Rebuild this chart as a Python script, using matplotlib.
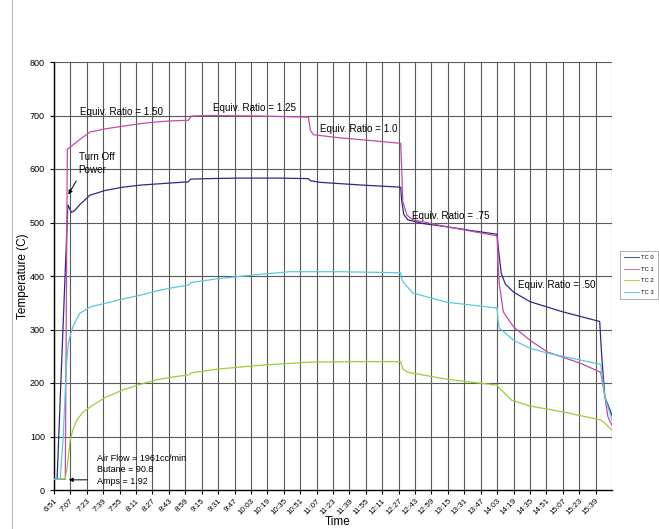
import numpy as np
import matplotlib.pyplot as plt
from matplotlib.lines import Line2D

plt.rcParams['font.family'] = ['Liberation Sans', 'DejaVu Sans']

# minutes after 6:51 and temperature (C) for each thermocouple
tc0_t = [0, 3, 13.5, 17, 20, 25, 35, 50, 67, 85, 100, 115, 131, 133, 150, 180, 220, 248,
         250, 260, 300, 338, 339, 341, 345, 360, 383, 410, 432, 433, 436, 440, 448, 464,
         496, 532, 534, 537, 544]
tc0_v = [20, 20, 533, 519, 522, 533, 551, 560, 566, 570, 572, 574, 576, 581, 582, 583, 583, 582,
         578, 575, 570, 566, 540, 515, 505, 498, 492, 484, 478, 455, 405, 385, 370, 352,
         333, 315, 250, 174, 140]

tc1_t = [0, 11, 13, 16, 25, 35, 50, 67, 85, 100, 115, 131, 134, 150, 200, 248, 250, 253,
         280, 310, 338, 339, 340, 344, 350, 383, 432, 433, 434, 438, 448, 464, 481, 513,
         533, 536, 540, 544]
tc1_v = [20, 20, 637, 641, 655, 669, 675, 680, 685, 688, 690, 691, 699, 700, 699, 697, 672, 664,
         658, 653, 648, 600, 540, 514, 505, 492, 475, 420, 387, 333, 305, 280, 258, 237,
         220, 187, 137, 121]

tc2_t = [0, 11, 13, 15.5, 18, 22, 28, 35, 50, 67, 85, 100, 115, 131, 134, 160, 200, 249,
         300, 338, 340, 345, 383, 432, 434, 446, 464, 496, 533, 537, 544]
tc2_v = [20, 21, 45, 90, 110, 130, 145, 155, 173, 187, 198, 206, 211, 215, 219, 226, 233, 239,
         240, 240, 226, 220, 207, 196, 191, 168, 157, 146, 131, 125, 112]

tc3_t = [0, 6, 9, 12, 14, 16, 19, 25, 35, 52, 67, 84, 100, 115, 131, 134, 160, 200, 230,
         249, 280, 338, 339, 341, 350, 383, 432, 433, 434, 448, 464, 481, 513, 533, 537, 544]
tc3_v = [20, 20, 100, 230, 275, 290, 308, 330, 342, 350, 357, 364, 372, 378, 383, 388, 395, 403, 408,
         408, 408, 406, 395, 387, 368, 351, 340, 315, 303, 280, 265, 256, 243, 235, 174, 131]

tick_labels = ['6:51', '7:07', '7:23', '7:39', '7:55', '8:11', '8:27', '8:43', '8:59', '9:15',
               '9:31', '9:47', '10:03', '10:19', '10:35', '10:51', '11:07', '11:23', '11:39',
               '11:55', '12:11', '12:27', '12:43', '12:59', '13:15', '13:31', '13:47', '14:03',
               '14:19', '14:35', '14:51', '15:07', '15:23', '15:39']

fig = plt.figure(figsize=(6.59, 5.29), dpi=100)
ax = fig.add_axes([54 / 659, 39 / 529, 558 / 659, 428 / 529])

grid_c = '#5a5a5a'
for k in range(len(tick_labels) + 1):
    ax.axvline(k * 16, color=grid_c, lw=0.8, zorder=1)
for v in range(100, 900, 100):
    ax.axhline(v, color=grid_c, lw=0.8, zorder=1)

c0, c1, c2, c3 = '#2b2b86', '#c44aa8', '#9ccc3a', '#58c8e2'
ax.plot(tc0_t, tc0_v, color=c0, lw=0.9, zorder=3)
ax.plot(tc1_t, tc1_v, color=c1, lw=0.9, zorder=3)
ax.plot(tc2_t, tc2_v, color=c2, lw=0.9, zorder=3)
ax.plot(tc3_t, tc3_v, color=c3, lw=0.9, zorder=3)

ax.set_xlim(0, 544)
ax.set_ylim(0, 800)
ax.set_xticks(np.arange(len(tick_labels)) * 16)
ax.set_xticklabels(tick_labels, rotation=45, ha='right', rotation_mode='anchor', fontsize=5.8)
ax.set_yticks(range(0, 900, 100))
ax.tick_params(axis='y', labelsize=6.5, length=3, color='black')
ax.tick_params(axis='x', length=3, color='black', pad=2.5)
for s in ['top', 'right']:
    ax.spines[s].set_visible(False)
ax.spines['left'].set_linewidth(1.0)
ax.spines['bottom'].set_linewidth(1.0)
ax.set_ylabel('Temperature (C)', fontsize=8.5)
ax.yaxis.set_label_coords(-25 / 558, 0.5)
fig.text(338 / 659, 7 / 529, 'Time', fontsize=8.5, ha='center', va='center')

fs = 7.1
ax.text(25, 707, 'Equiv. Ratio = 1.50', fontsize=fs, va='center', zorder=5)
ax.text(155, 714, 'Equiv. Ratio = 1.25', fontsize=fs, va='center', zorder=5)
ax.text(259, 675, 'Equiv. Ratio = 1.0', fontsize=fs, va='center', zorder=5)
ax.text(349, 512, 'Equiv. Ratio = .75', fontsize=fs, va='center', zorder=5)
ax.text(452, 383, 'Equiv. Ratio = .50', fontsize=fs, va='center', zorder=5)
ax.text(24, 610, 'Turn Off\nPower', fontsize=fs, va='center', linespacing=1.45, zorder=5)
ax.annotate('', xy=(12.7, 548), xytext=(23, 582),
            arrowprops=dict(arrowstyle='-|>', color='black', lw=0.7, mutation_scale=6))
ax.text(42, 38, 'Air Flow = 1961cc/min\nButane = 90.8\nAmps = 1.92', fontsize=6.5,
        va='center', linespacing=1.35, zorder=5)
ax.annotate('', xy=(11.7, 19), xytext=(35, 19),
            arrowprops=dict(arrowstyle='-|>', color='black', lw=0.7, mutation_scale=6))

handles = [Line2D([], [], color=c, lw=0.6) for c in (c0, c1, c2, c3)]
leg = fig.legend(handles, ['TC 0', 'TC 1', 'TC 2', 'TC 3'], loc='upper left',
                 bbox_to_anchor=(620 / 659, 1 - 251 / 529), fontsize=4.2, frameon=True,
                 fancybox=False, edgecolor='#888888', handlelength=2.6, handletextpad=0.3,
                 borderpad=0.7, labelspacing=1.1, borderaxespad=0)
leg.get_frame().set_linewidth(0.6)

fig.add_artist(Line2D([12 / 659, 12 / 659], [0, 1], color='#bbbbbb', lw=0.8))

fig.savefig('out.png', dpi=100)
